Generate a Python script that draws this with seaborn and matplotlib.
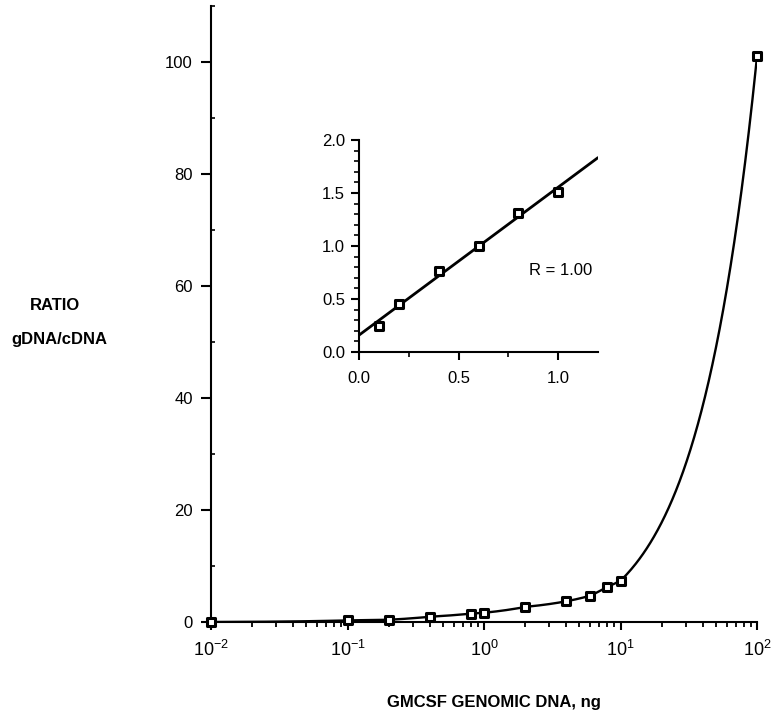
import numpy as np
import matplotlib
matplotlib.use("Agg")
import matplotlib.pyplot as plt
import matplotlib.ticker as mticker
import seaborn as sns

# ---- data ----
main_x = [0.01, 0.1, 0.2, 0.4, 0.8, 1.0, 2.0, 4.0, 6.0, 8.0, 10.0, 100.0]
main_y = [0.0, 0.3, 0.4, 0.95, 1.5, 1.65, 2.7, 3.7, 4.7, 6.3, 7.35, 101.0]

inset_x = [0.1, 0.2, 0.4, 0.6, 0.8, 1.0]
inset_y = [0.25, 0.45, 0.76, 1.0, 1.31, 1.51]

main_yticks = [0, 20, 40, 60, 80, 100]
inset_yticks = [0.0, 0.5, 1.0, 1.5, 2.0]
inset_xticks = [0.0, 0.5, 1.0]

x_label = "GMCSF GENOMIC DNA, ng"
y_label_1 = "RATIO"
y_label_2 = "gDNA/cDNA"
r_text = "R = 1.00"

# ---- style ----
sns.set_style("ticks")
plt.rcParams["font.family"] = ["Liberation Sans", "DejaVu Sans"]
plt.rcParams["mathtext.default"] = "regular"
plt.rcParams["axes.linewidth"] = 1.5
for k in ["text.color", "axes.labelcolor", "xtick.color", "ytick.color",
          "axes.edgecolor", "xtick.labelcolor", "ytick.labelcolor"]:
    plt.rcParams[k] = "black"

fig = plt.figure(figsize=(7.77, 7.12), dpi=100)
ax = fig.add_axes([211 / 777, (712 - 622) / 712, 546 / 777, 616 / 712])

# curve through the data (piecewise linear in data space, drawn on log axis)
xs = np.geomspace(main_x[0], main_x[-1], 600)
ys = np.interp(xs, main_x, main_y)
sns.lineplot(x=xs, y=ys, ax=ax, color="black", linewidth=1.7, sort=False,
             estimator=None)
sns.scatterplot(x=main_x, y=main_y, ax=ax, marker="s", s=34, color="white",
                edgecolor="black", linewidth=2.2, zorder=5, clip_on=False)

ax.set_xscale("log")
ax.set_xlim(0.01, 100)
ax.set_ylim(0, 110)
ax.set_yticks(main_yticks)
ax.yaxis.set_minor_locator(mticker.MultipleLocator(10))
ax.xaxis.set_major_locator(mticker.LogLocator(base=10, numticks=10))
ax.xaxis.set_minor_locator(mticker.LogLocator(base=10, subs=np.arange(2, 10), numticks=20))
ax.xaxis.set_minor_formatter(mticker.NullFormatter())
ax.tick_params(axis="y", which="major", direction="out", length=7, width=1.5,
               pad=6, labelsize=12)
ax.tick_params(axis="y", which="minor", direction="in", length=3, width=1.2)
ax.tick_params(axis="x", which="major", direction="out", length=6, width=1.5,
               pad=7, labelsize=13)
ax.tick_params(axis="x", which="minor", direction="out", length=3.5, width=1.3)
sns.despine(ax=ax)
ax.set_xlabel("")
ax.set_ylabel("")

fig.text(494 / 777, 1 - 702 / 712, x_label, ha="center", va="center",
         fontsize=12, fontweight="bold")
fig.text(55 / 777, 1 - 306 / 712, y_label_1, ha="center", va="center",
         fontsize=12, fontweight="bold")
fig.text(59 / 777, 1 - 340 / 712, y_label_2, ha="center", va="center",
         fontsize=12, fontweight="bold")

# ---- inset ----
ax2 = fig.add_axes([359 / 777, (712 - 352) / 712, 239 / 777, 212 / 712])
ax2.set_xlim(0, 1.2)
ax2.set_ylim(0, 2.0)
sns.regplot(x=inset_x, y=inset_y, ax=ax2, ci=None, truncate=False, marker="s",
            scatter_kws={"s": 34, "facecolor": "white", "edgecolor": "black",
                         "linewidths": 2.2, "zorder": 5, "alpha": 1},
            line_kws={"color": "black", "linewidth": 2.0})
ax2.set_xlim(0, 1.2)
ax2.set_ylim(0, 2.0)
ax2.set_yticks(inset_yticks)
ax2.set_xticks(inset_xticks)
ax2.xaxis.set_minor_locator(mticker.MultipleLocator(0.25))
ax2.yaxis.set_minor_locator(mticker.MultipleLocator(0.1))
ax2.yaxis.set_major_formatter(mticker.FormatStrFormatter("%.1f"))
ax2.xaxis.set_major_formatter(mticker.FormatStrFormatter("%.1f"))
ax2.tick_params(axis="both", which="major", direction="out", length=6,
                width=1.5, labelsize=12)
ax2.tick_params(axis="y", which="major", pad=4)
ax2.tick_params(axis="x", which="major", pad=8)
ax2.tick_params(axis="both", which="minor", direction="out", length=3.5, width=1.2)
ax2.set_facecolor("none")
sns.despine(ax=ax2)
ax2.set_xlabel("")
ax2.set_ylabel("")
ax2.text(0.855, 0.77, r_text, ha="left", va="center", fontsize=12)

fig.savefig("out.png", dpi=100)
